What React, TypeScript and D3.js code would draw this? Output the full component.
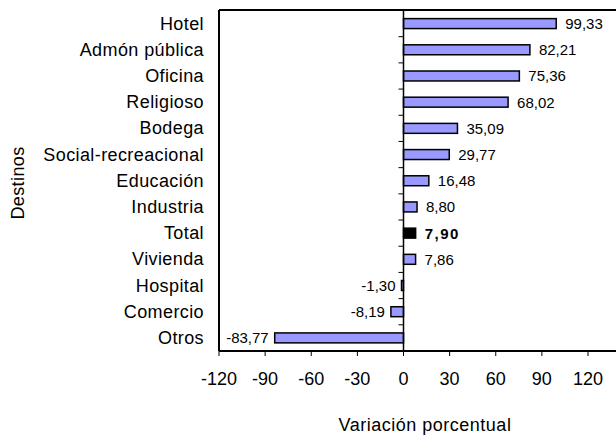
import React from "react";
import * as d3 from "d3";

const categories = [
  "Hotel",
  "Admón pública",
  "Oficina",
  "Religioso",
  "Bodega",
  "Social-recreacional",
  "Educación",
  "Industria",
  "Total",
  "Vivienda",
  "Hospital",
  "Comercio",
  "Otros",
];
const values = [99.33, 82.21, 75.36, 68.02, 35.09, 29.77, 16.48, 8.8, 7.9, 7.86, -1.3, -8.19, -83.77];
const highlight = ["Total"];
const xTicks = [-120, -90, -60, -30, 0, 30, 60, 90, 120];
const xTitle = "Variación porcentual";
const yTitle = "Destinos";

const W = 616;
const H = 437;
const left = 219;
const top = 10;
const bottom = 351;
const font = "'Liberation Sans', Arial, sans-serif";

const fmt = (v: number) => v.toFixed(2).replace(".", ",");

export default function App() {
  const x = d3.scaleLinear().domain([-120, 150]).range([left, left + 270 * 1.5375]);
  const y = d3.scaleBand<string>().domain(categories).range([top + 0.5, bottom]).padding(0);
  const bh = y.bandwidth() * 0.38;
  const x0 = x(0);
  return (
    <svg width={W} height={H} style={{ position: "absolute", left: 0, top: 0, background: "#fff" }}>
      <rect x={0} y={0} width={W} height={H} fill="#fff" />
      {/* bars */}
      {categories.map((c, i) => {
        const v = values[i];
        const cy = (y(c) as number) + y.bandwidth() / 2;
        const isH = highlight.includes(c);
        const x1 = Math.min(x(v), x0);
        const w = Math.abs(x(v) - x0);
        return (
          <rect
            key={c}
            x={x1}
            y={cy - bh / 2}
            width={w}
            height={bh}
            fill={isH ? "#000" : "#9999FF"}
            stroke="#000"
            strokeWidth={1.5}
          />
        );
      })}
      {/* frame */}
      <line x1={left} x2={W} y1={top} y2={top} stroke="#000" strokeWidth={2} />
      <line x1={left} x2={left} y1={top} y2={bottom} stroke="#000" strokeWidth={2} />
      <line x1={left} x2={W} y1={bottom} y2={bottom} stroke="#000" strokeWidth={2} />
      {/* category axis at zero */}
      <line x1={x0} x2={x0} y1={top} y2={bottom} stroke="#000" strokeWidth={1.5} />
      {categories.slice(1).map((c) => (
        <line key={c} x1={x0 - 5} x2={x0} y1={y(c) as number} y2={y(c) as number} stroke="#000" strokeWidth={1} />
      ))}
      {/* x ticks */}
      {xTicks.map((t) => (
        <g key={t}>
          <line x1={x(t)} x2={x(t)} y1={bottom} y2={bottom + 5} stroke="#000" strokeWidth={1} />
          <text x={x(t)} y={385} textAnchor="middle" fontFamily={font} fontSize={18} fill="#000">
            {t}
          </text>
        </g>
      ))}
      {/* category labels */}
      {categories.map((c) => (
        <text
          key={c}
          x={204}
          y={(y(c) as number) + y.bandwidth() / 2 + 6}
          textAnchor="end"
          fontFamily={font}
          fontSize={18}
          letterSpacing={0.4}
          fill="#000"
        >
          {c}
        </text>
      ))}
      {/* value labels */}
      {categories.map((c, i) => {
        const v = values[i];
        const cy = (y(c) as number) + y.bandwidth() / 2;
        const isH = highlight.includes(c);
        const pos = v >= 0;
        return (
          <text
            key={c}
            x={pos ? x(v) + 9 : x(v) - 6}
            y={cy + 5.5}
            textAnchor={pos ? "start" : "end"}
            fontFamily={font}
            fontSize={15}
            fontWeight={isH ? "bold" : "normal"}
            letterSpacing={isH ? 1.5 : 0}
            fill="#000"
          >
            {fmt(v)}
          </text>
        );
      })}
      <text x={425} y={431} textAnchor="middle" fontFamily={font} fontSize={18} letterSpacing={0.5} fill="#000">
        {xTitle}
      </text>
      <text
        transform={`translate(24,183) rotate(-90)`}
        textAnchor="middle"
        fontFamily={font}
        fontSize={18}
        letterSpacing={0.4}
        fill="#000"
      >
        {yTitle}
      </text>
    </svg>
  );
}
